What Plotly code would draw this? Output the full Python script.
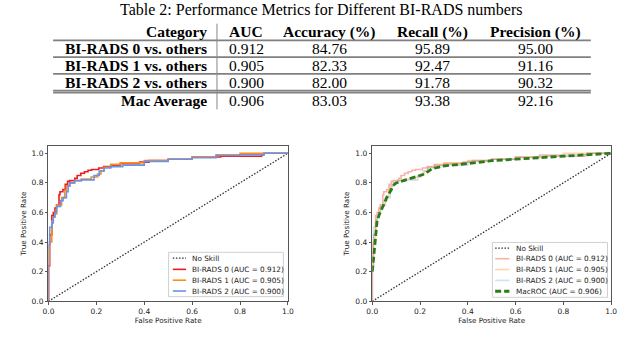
"""
ROC curves + metrics table (BI-RADS one-vs-rest)
"""

import plotly.graph_objects as go

W, H = 640, 346

# --- table data ---
table_title = 'Table 2: Performance Metrics for Different BI-RADS numbers'
headers = ['Category', 'AUC', 'Accuracy (%)', 'Recall (%)', 'Precision (%)']
categories = ['BI-RADS 0 vs. others', 'BI-RADS 1 vs. others', 'BI-RADS 2 vs. others', 'Mac Average']
auc = [0.912, 0.905, 0.900, 0.906]
accuracy = [84.76, 82.33, 82.00, 83.03]
recall = [95.89, 92.47, 91.78, 93.38]
precision = [95.00, 91.16, 90.32, 92.16]

# --- ROC curves ---
names = ['BI-RADS 0', 'BI-RADS 1', 'BI-RADS 2']
roc0_fpr = [0, 0, 0.005, 0.014, 0.02, 0.027, 0.034, 0.044, 0.048, 0.06, 0.07, 0.08, 0.088, 0.11, 0.12,
            0.135, 0.15, 0.165, 0.18, 0.21, 0.23, 0.26, 0.30, 0.38, 0.42, 0.50, 0.60, 0.72, 0.89, 0.90, 0.95, 1.0]
roc0_tpr = [0, 0.19, 0.24, 0.45, 0.58, 0.60, 0.63, 0.65, 0.72, 0.74, 0.755, 0.79, 0.81, 0.815, 0.83,
            0.85, 0.865, 0.875, 0.885, 0.89, 0.90, 0.91, 0.92, 0.93, 0.94, 0.95, 0.96, 0.975, 0.98, 0.99, 1.0, 1.0]
roc1_fpr = [0, 0, 0.003, 0.014, 0.02, 0.027, 0.034, 0.055, 0.068, 0.075, 0.089, 0.109, 0.137, 0.178,
            0.205, 0.219, 0.232, 0.26, 0.30, 0.40, 0.50, 0.60, 0.70, 0.80, 0.95, 1.0]
roc1_tpr = [0, 0.20, 0.25, 0.40, 0.54, 0.57, 0.59, 0.65, 0.70, 0.75, 0.78, 0.80, 0.815, 0.826,
            0.84, 0.86, 0.88, 0.905, 0.925, 0.935, 0.95, 0.96, 0.975, 0.99, 1.0, 1.0]
roc2_fpr = [0, 0, 0.005, 0.014, 0.02, 0.027, 0.034, 0.05, 0.061, 0.075, 0.082, 0.089, 0.109, 0.137,
            0.19, 0.212, 0.232, 0.26, 0.31, 0.40, 0.50, 0.60, 0.70, 0.80, 0.90, 0.93, 1.0]
roc2_tpr = [0, 0.21, 0.38, 0.50, 0.53, 0.57, 0.60, 0.64, 0.68, 0.70, 0.74, 0.78, 0.80, 0.815,
            0.82, 0.85, 0.88, 0.90, 0.91, 0.92, 0.945, 0.96, 0.97, 0.985, 0.99, 1.0, 1.0]
mac_fpr = [0, 0.005, 0.01, 0.015, 0.02, 0.03, 0.04, 0.05, 0.06, 0.07, 0.08, 0.09, 0.10, 0.12, 0.15,
           0.18, 0.20, 0.22, 0.25, 0.30, 0.40, 0.50, 0.60, 0.70, 0.80, 0.90, 1.0]
mac_tpr = [0.20, 0.30, 0.37, 0.47, 0.54, 0.59, 0.62, 0.66, 0.70, 0.73, 0.76, 0.785, 0.80, 0.81, 0.825,
           0.835, 0.845, 0.86, 0.895, 0.915, 0.93, 0.95, 0.96, 0.97, 0.98, 0.985, 1.0]
mac_name = 'MacROC'
mac_auc = 0.906
skill_x = [0, 1]
skill_y = [0, 1]

rocs = [(roc0_fpr, roc0_tpr), (roc1_fpr, roc1_tpr), (roc2_fpr, roc2_tpr)]
colors = ['#ee1c1c', '#ff8c1a', '#6495ed']
faded = ['rgba(240,60,40,0.4)', 'rgba(255,150,40,0.4)', 'rgba(100,149,237,0.3)']

SERIF = 'Liberation Serif'
SANS = 'DejaVu Sans'


def px(p):
    return p / W


def py(p):
    return 1 - p / H


fig = go.Figure()

# left panel
fig.add_trace(go.Scatter(x=skill_x, y=skill_y, mode='lines', xaxis='x', yaxis='y',
                         line=dict(color='#333', width=1.3, dash='1.5px,1.6px'), showlegend=False))
for (fx, ty), c in zip(rocs, colors):
    fig.add_trace(go.Scatter(x=fx, y=ty, mode='lines', xaxis='x', yaxis='y', line_shape='vh',
                             line=dict(color=c, width=1.6), showlegend=False))

# right panel
fig.add_trace(go.Scatter(x=skill_x, y=skill_y, mode='lines', xaxis='x2', yaxis='y2',
                         line=dict(color='#333', width=1.3, dash='1.5px,1.6px'), showlegend=False))
for (fx, ty), c in zip(rocs, faded):
    fig.add_trace(go.Scatter(x=fx, y=ty, mode='lines', xaxis='x2', yaxis='y2', line_shape='vh',
                             line=dict(color=c, width=1.6), showlegend=False))
fig.add_trace(go.Scatter(x=mac_fpr, y=mac_tpr, mode='lines', xaxis='x2', yaxis='y2',
                         line=dict(color='#2a7d14', width=2.8, dash='6px,3px'), showlegend=False))

axis_style = dict(
    showline=True, mirror=True, linecolor='#555', linewidth=1,
    ticks='outside', ticklen=2.5, tickwidth=0.8, tickcolor='#555',
    showgrid=False, zeroline=False, dtick=0.2, tickformat='.1f',
    tickfont=dict(family=SANS, size=7.5, color='#222'),
)
title_font = dict(family=SANS, size=7.2, color='#222')

y_dom = [py(305.7), py(148)]
fig.update_layout(
    width=W, height=H,
    margin=dict(l=0, r=0, t=0, b=0),
    paper_bgcolor='white', plot_bgcolor='white',
    xaxis=dict(domain=[px(43.3), px(287.3)], range=[0, 1], anchor='y',
               title=dict(text='False Positive Rate', font=title_font, standoff=3), **axis_style),
    yaxis=dict(domain=y_dom, range=[0, 1.05], anchor='x',
               title=dict(text='True Positive Rate', font=title_font, standoff=4), **axis_style),
    xaxis2=dict(domain=[px(373.3), px(616.7)], range=[0, 1], anchor='y2',
                title=dict(text='False Positive Rate', font=title_font, standoff=3), **axis_style),
    yaxis2=dict(domain=y_dom, range=[0, 1.05], anchor='x2',
                title=dict(text='True Positive Rate', font=title_font, standoff=4), **axis_style),
)

shapes = []
annotations = []


def label(text, x, y, font, xanchor='center'):
    annotations.append(dict(text=text, x=x, y=y, xref='paper', yref='paper', xanchor=xanchor,
                            yanchor='middle', showarrow=False, font=font))


# --- table ---
label(table_title, px(321), py(10), dict(family=SERIF, size=16, color='black'))
cell_font = dict(family=SERIF, size=15.5, color='black')
col_x = [px(207), px(245), px(330), px(435), px(540)]
row_y = [py(49.5), py(66.5), py(83.5), py(102)]
for i, h in enumerate(headers):
    label('<b>%s</b>' % h, col_x[i], py(32), cell_font, 'right' if i == 0 else 'center')
for r in range(len(categories)):
    cells = [categories[r], '%.3f' % auc[r], '%.2f' % accuracy[r], '%.2f' % recall[r], '%.2f' % precision[r]]
    for i, v in enumerate(cells):
        if i == 0:
            label('<b>%s</b>' % v, col_x[i], row_y[r], cell_font, 'right')
        else:
            label(v, col_x[i], row_y[r], cell_font)

rule = dict(type='line', xref='paper', yref='paper', x0=px(48), x1=px(596), line=dict(color='#808080', width=1.6))
for yy in [41, 58, 75, 92, 94]:
    shapes.append(dict(rule, y0=py(yy), y1=py(yy)))
shapes.append(dict(type='line', xref='paper', yref='paper', x0=px(215), x1=px(215), y0=py(24), y1=py(111),
                   line=dict(color='#888', width=1)))

# --- legends ---
leg_font = dict(family=SANS, size=7.3, color='#222')


def legend(box, rows, line_x, text_x):
    x0, x1, y0, y1 = box
    shapes.append(dict(type='rect', xref='paper', yref='paper', x0=px(x0), x1=px(x1), y0=py(y0), y1=py(y1),
                       line=dict(color='#d0d0d0', width=1), fillcolor='rgba(255,255,255,0.85)'))
    for yy, text, line in rows:
        shapes.append(dict(type='line', xref='paper', yref='paper', x0=px(line_x[0]), x1=px(line_x[1]),
                           y0=py(yy), y1=py(yy), line=line))
        label(text, px(text_x), py(yy), leg_font, 'left')


skill_line = dict(color='#333', width=1.3, dash='1.5px,1.6px')
left_rows = [(262, 'No Skill', skill_line)]
right_rows = [(251.7, 'No Skill', skill_line)]
for i in range(3):
    lbl = '%s (AUC = %.3f)' % (names[i], auc[i])
    left_rows.append((273.3 + i * 11, lbl, dict(color=colors[i], width=1.6)))
    right_rows.append((262.5 + i * 11, lbl, dict(color=faded[i], width=1.6)))
right_rows.append((295.5, '%s (AUC = %.3f)' % (mac_name, mac_auc), dict(color='#2a7d14', width=2.8, dash='6px,3px')))

legend((165.7, 282.7, 256, 301), left_rows, (170, 183.5), 187.5)
legend((495.7, 613, 246, 301.7), right_rows, (498.5, 513), 518)

fig.update_layout(shapes=shapes, annotations=annotations)

# page has a default 8px body margin; drop it so the 640x346 figure fills the window
fig.write_html("out.html", config={'displayModeBar': False},
               post_script="document.body.style.margin='0';")
